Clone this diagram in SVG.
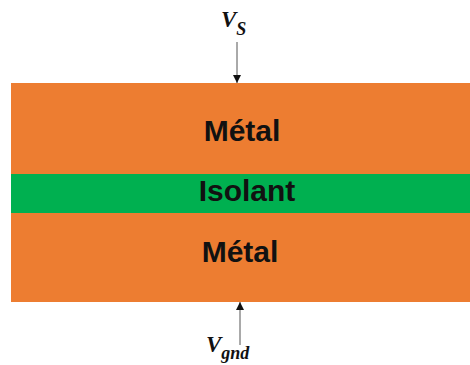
<svg xmlns="http://www.w3.org/2000/svg" width="470" height="365" viewBox="0 0 470 365">
<style>
.metal{fill:#ED7D31}
.iso{fill:#00B050}
.lbl{font-family:"Liberation Sans",Arial,sans-serif;font-weight:bold;font-size:30px;fill:#111;text-anchor:middle}
.v{font-family:"Liberation Serif","Times New Roman",serif;font-weight:bold;font-style:italic;fill:#111}
.wire{stroke:#555;stroke-width:1;fill:none}
</style>
<defs>
<marker id="ah" viewBox="0 0 10 10" refX="10" refY="5" markerWidth="8" markerHeight="8" markerUnits="userSpaceOnUse" orient="auto">
<path d="M0,0 L10,5 L0,10 z" fill="#111"/>
</marker>
</defs>
<g id="metal-top"><rect class="metal" x="11" y="83" width="459" height="91"/><text class="lbl" x="242" y="141">Métal</text></g>
<g id="isolant"><rect class="iso" x="11" y="174" width="459" height="39"/><text class="lbl" x="247" y="201">Isolant</text></g>
<g id="metal-bottom"><rect class="metal" x="11" y="213" width="459" height="89"/><text class="lbl" x="240" y="262">Métal</text></g>
<g id="vs"><text class="v" x="221" y="27" font-size="23">V<tspan font-size="18" dy="8">S</tspan></text></g>
<g id="vgnd"><text class="v" x="206" y="352" font-size="23">V<tspan font-size="18" dy="7">gnd</tspan></text></g>
<g id="connectors">
<line class="wire" x1="237" y1="42" x2="237" y2="83" marker-end="url(#ah)"/>
<line class="wire" x1="240" y1="345" x2="240" y2="302" marker-end="url(#ah)"/>
</g>
</svg>
